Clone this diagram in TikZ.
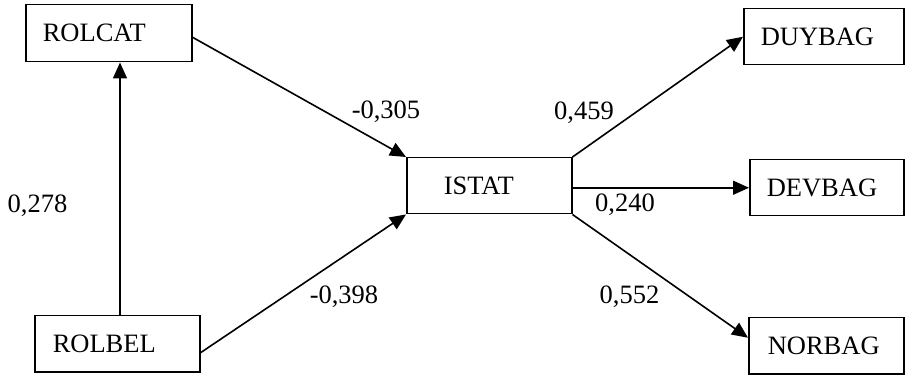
\documentclass[tikz,border=0pt]{standalone}
\usepackage{fontspec}
\setmainfont{Liberation Serif}
\usetikzlibrary{arrows.meta}
\begin{document}
\begin{tikzpicture}[x=1pt,y=-1pt,
  font=\fontsize{26.5}{30}\selectfont,
  box/.style={draw, line width=1.5pt, rectangle, minimum height=56pt,
    align=left, inner xsep=17pt, inner ysep=0pt, anchor=north west},
  arr/.style={line width=1.6pt, -{Triangle[length=16pt,width=14pt]}},
  lbl/.style={inner sep=0pt}]
\useasboundingbox (0,0) rectangle (905,379);
\node[box, text width=132pt, minimum height=57pt] (rolcat) at (25,4) {ROLCAT};
\node[box, text width=131pt] (rolbel) at (34,315) {\hspace*{1pt}ROLBEL};
\node[box, text width=131pt] (istat) at (406,157) {\hspace*{20pt}ISTAT};
\node[box, text width=126pt] (duybag) at (743,8) {DUYBAG};
\node[box, text width=120pt] (devbag) at (749,159) {DEVBAG};
\node[box, text width=121pt] (norbag) at (748,317) {\hspace*{2pt}NORBAG};

\draw[arr] ([xshift=86pt]rolbel.north west) -- ([xshift=95pt]rolcat.south west);
\draw[arr] ([yshift=-4pt]rolcat.east) -- (istat.north west);
\draw[arr] ([yshift=-9pt]rolbel.east) -- (istat.south west);
\draw[arr] (istat.north east) -- (duybag.west);
\draw[arr] (devbag.west -| istat.east) -- (devbag.west);
\draw[arr] (istat.south east) -- ([yshift=8pt]norbag.west);

\node[lbl] (l1) at (386,112) {-0,305};
\node[lbl] (l2) at (37.5,206) {0,278};
\node[lbl] (l3) at (344,297) {-0,398};
\node[lbl] (l4) at (584,113) {0,459};
\node[lbl] (l5) at (625,205) {0,240};
\node[lbl] (l6) at (629.5,297) {0,552};
\end{tikzpicture}
\end{document}
